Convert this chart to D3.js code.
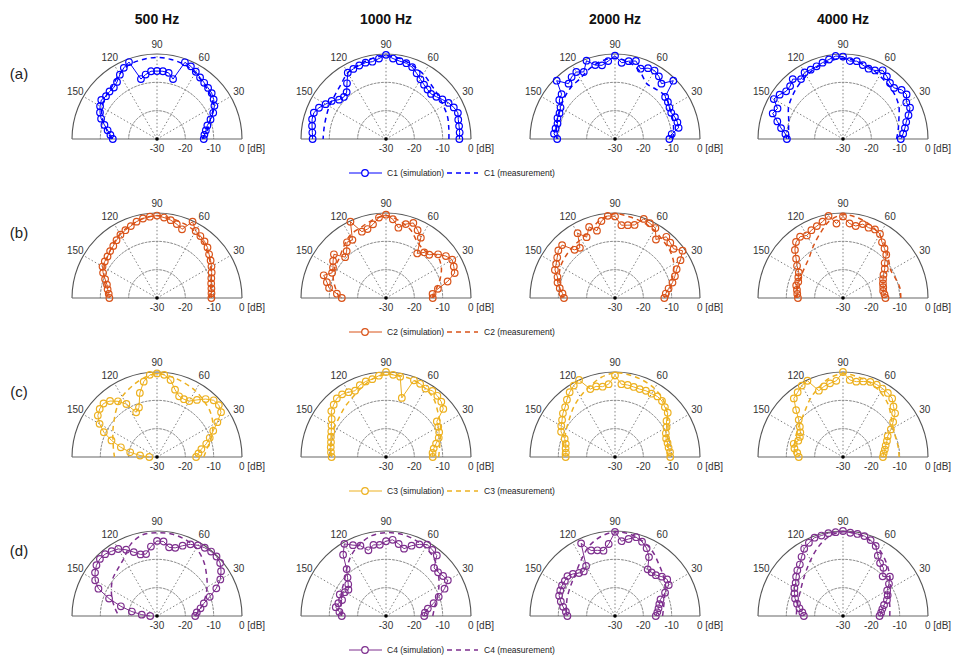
<!DOCTYPE html>
<html><head><meta charset="utf-8">
<script src="https://cdn.jsdelivr.net/npm/d3@7/dist/d3.min.js"></script>
<style>body{margin:0;background:#fff}</style>
</head><body><svg id="c" width="960" height="657"></svg>
<script>
// ---------- data ----------
const frequencies = ["500 Hz","1000 Hz","2000 Hz","4000 Hz"];
const rowLabels = ["(a)","(b)","(c)","(d)"];
const configs = ["C1","C2","C3","C4"];
const colors = ["#0000ff","#D95319","#EDB120","#7E2F8E"];
const angleTicks = [30,60,90,120,150];
const radialTicks = [-30,-20,-10,0];
const radialTickLabels = ["-30","-20","-10","0 [dB]"];
const simAngles = [0,5,10,15,20,25,30,35,40,45,50,55,60,65,70,75,80,85,90,95,100,105,110,115,120,125,130,135,140,145,150,155,160,165,170,175,180];
const measAngles = [0,10,20,30,40,50,60,70,80,90,100,110,120,130,140,150,160,170,180];

// C1
const simC1_500 = [-13.5,-13.2,-12.5,-11.6,-9.9,-8.1,-6.6,-5.6,-4.8,-4.5,-4.1,-3.5,-2.6,-1.7,-1.2,-8.1,-6.3,-6.0,-6.0,-6.0,-6.9,-8.1,-1.1,-2.3,-3.8,-5.4,-6.3,-6.3,-6.5,-6.0,-6.8,-7.8,-9.0,-10.8,-12.3,-13.5,-14.4];
const measC1_500 = [-14,-12,-10,-7,-5.5,-4.5,-3,-2,-1.5,-1.2,-1.5,-2,-3.5,-5.5,-6.5,-7.5,-9.5,-12,-14];
const simC1_1000 = [-4.1,-3.9,-3.8,-3.6,-3.0,-3.6,-4.5,-5.7,-6.8,-7.5,-7.2,-6.6,-5.7,-4.4,-3.0,-2.3,-2.1,-1.5,-0.3,-1.5,-2.3,-2.1,-2.4,-2.7,-3.0,-6.0,-8.4,-9.0,-8.4,-6.6,-5.4,-3.9,-2.9,-3.0,-3.5,-3.9,-4.1];
const measC1_1000 = [-7.8,-7.5,-6.9,-6.6,-6.0,-5.1,-3.6,-2.4,-1.2,-0.6,-1.2,-2.1,-3.0,-5.1,-6.3,-6.9,-7.5,-7.8,-7.8];
const simC1_2000 = [-10.8,-9.9,-7.2,-7.2,-7.5,-8.1,-7.8,-7.2,-6.9,-0.9,-4.5,-3.0,-2.1,-2.4,-3.6,-1.5,-2.1,-3.0,-0.6,-2.4,-3.6,-3.0,-0.6,-3.9,-2.7,-3.3,-4.5,-0.9,-5.4,-6.0,-7.8,-8.4,-8.4,-9.0,-8.7,-8.4,-9.6];
const measC1_2000 = [-9.6,-9.0,-8.4,-7.8,-6.6,-7.2,-7.5,-4.5,-2.4,-1.5,-2.1,-3.6,-5.4,-6.0,-6.9,-7.8,-8.4,-9.0,-9.6];
const simC1_4000 = [-9.6,-8.7,-7.8,-6.9,-5.4,-3.9,-4.2,-2.6,-3.0,-4.5,-4.2,-3.0,-2.0,-3.3,-3.6,-3.0,-2.1,-2.4,-0.9,-0.6,-1.5,-2.1,-2.7,-3.0,-2.9,-4.2,-2.4,-3.6,-3.8,-2.7,-1.8,-4.5,-3.6,-6.0,-7.8,-9.6,-10.2];
const measC1_4000 = [-11.1,-10.2,-9.0,-7.2,-6.0,-5.1,-4.2,-3.0,-2.1,-1.5,-2.1,-3.0,-4.2,-5.4,-6.6,-7.8,-9.6,-10.5,-10.8];
// C2
const simC2_500 = [-10.8,-10.7,-10.5,-10.2,-9.6,-8.7,-7.8,-6.9,-6.0,-4.8,-3.9,-3.3,-2.7,-0.3,-4.2,-3.0,-2.1,-1.5,-0.9,-1.2,-1.5,-2.1,-3.0,-3.6,-4.2,-5.1,-6.0,-6.6,-7.2,-7.5,-7.8,-9.0,-10.5,-11.7,-12.3,-12.9,-13.2];
const measC2_500 = [-11.4,-10.8,-9.6,-8.1,-6.3,-4.5,-3.0,-2.1,-1.5,-0.9,-1.5,-2.7,-3.9,-5.7,-7.2,-8.4,-10.2,-11.7,-12.6];
const simC2_1000 = [-13.5,-13.5,-11.4,-7.5,-4.2,-3.6,-3.0,-4.2,-6.0,-8.4,-9.0,-10.8,-5.4,-3.6,-1.8,-3.0,-4.8,-2.1,-0.6,-1.5,-3.6,-4.8,-5.1,-0.3,-6.3,-6.0,-8.4,-9.6,-6.0,-7.2,-8.4,-9.0,-6.6,-8.4,-9.6,-12.6,-14.4];
const measC2_1000 = [-13.5,-12.0,-9.6,-7.5,-6.6,-8.4,-7.5,-4.5,-2.4,-0.9,-2.1,-3.6,-4.5,-6.6,-8.4,-9.0,-10.2,-12.0,-13.5];
const simC2_2000 = [-12.6,-12.0,-10.8,-9.0,-7.5,-6.0,-3.3,-0.9,-3.0,-2.4,-1.8,-4.8,-1.5,-0.9,-0.3,-3.3,-3.9,-4.2,-1.2,-0.9,-2.4,-5.4,-3.3,-6.3,-3.6,-8.4,-7.8,-3.6,-3.9,-5.1,-6.0,-6.6,-8.4,-9.0,-10.2,-11.4,-12.0];
const measC2_2000 = [-11.4,-10.2,-8.4,-6.0,-4.5,-3.6,-2.4,-1.5,-0.9,-0.3,-1.8,-4.5,-6.0,-6.6,-7.2,-7.8,-9.0,-10.2,-11.4];
const simC2_4000 = [-15.0,-15.3,-15.6,-15.3,-15.0,-14.4,-13.5,-12.0,-10.8,-8.4,-7.2,-6.0,-3.9,-3.3,-3.6,-3.0,-4.2,-3.6,-1.2,-3.6,-0.6,-2.1,-3.0,-3.6,-4.5,-3.6,-4.2,-6.0,-8.4,-10.2,-12.0,-12.6,-13.2,-12.9,-13.5,-13.8,-14.1];
const measC2_4000 = [-9.6,-9.6,-10.2,-10.5,-9.0,-6.6,-4.2,-2.4,-1.2,-0.6,-2.4,-6.0,-9.0,-11.4,-12.6,-13.2,-13.5,-13.5,-13.5];
// C3
const simC3_500 = [-16.2,-15.3,-14.1,-12.0,-10.2,-8.1,-5.4,-2.4,-1.5,-1.7,-3.3,-5.4,-7.2,-7.5,-7.2,-5.4,-2.4,-0.9,-0.5,-0.9,-3.0,-6.6,-11.4,-12.6,-8.4,-6.0,-4.2,-3.3,-3.6,-4.5,-6.6,-9.3,-12.9,-16.8,-20.4,-24.0,-27.3];
const measC3_500 = [-13.5,-12.0,-9.6,-7.2,-5.4,-4.2,-3.0,-2.1,-1.2,-0.6,-1.8,-3.6,-5.4,-7.8,-10.2,-12.0,-13.5,-14.4,-15.0];
const simC3_1000 = [-13.5,-13.5,-12.9,-11.7,-10.2,-9.3,-8.7,-8.1,-3.6,-2.4,-1.8,-1.5,-2.1,-1.5,-1.2,-8.4,-1.2,-0.9,0,-1.2,-2.1,-2.4,-3.0,-4.2,-3.6,-3.0,-3.0,-3.9,-4.8,-6.6,-7.8,-8.7,-9.3,-9.9,-10.2,-10.5,-10.8];
const measC3_1000 = [-11.4,-10.8,-9.6,-7.8,-6.0,-3.6,-2.1,-1.2,-0.9,-0.9,-2.1,-4.2,-6.0,-7.2,-8.4,-9.0,-9.6,-10.2,-10.5];
const simC3_2000 = [-10.5,-10.5,-10.8,-10.8,-10.8,-10.2,-9.0,-7.8,-5.7,-5.1,-4.2,-3.9,-4.2,-4.2,-4.5,-4.4,-4.2,-4.2,-1.2,-4.2,-4.8,-4.2,-4.5,0,-0.9,-2.1,-3.6,-5.1,-6.0,-7.2,-8.1,-9.0,-11.1,-12.0,-12.3,-12.6,-12.6];
const measC3_2000 = [-11.4,-11.1,-10.2,-8.4,-6.0,-3.6,-2.1,-1.2,-0.6,-0.3,-1.5,-3.6,-5.4,-7.2,-9.0,-10.2,-11.1,-11.4,-11.4];
const simC3_4000 = [-15.9,-15.6,-15.0,-14.4,-13.5,-12.6,-10.5,-8.4,-6.0,-4.8,-3.0,-2.4,-2.1,-1.8,-1.8,-2.4,-3.0,-2.7,0,-3.0,-3.6,-4.2,-5.1,-0.3,-0.9,-2.1,-3.0,-6.6,-9.6,-11.4,-12.6,-13.2,-13.2,-12.0,-12.6,-13.8,-14.4];
const measC3_4000 = [-10.2,-10.2,-10.2,-9.6,-7.8,-5.4,-3.6,-2.1,-1.2,-0.6,-1.8,-4.2,-6.6,-9.0,-10.5,-11.4,-12.0,-12.6,-12.6];
// C4
const simC4_500 = [-16.5,-15.9,-14.4,-12.9,-10.2,-6.9,-4.2,-2.4,-0.9,-0.3,-0.3,-0.6,-1.2,-2.1,-3.6,-5.1,-5.4,-3.6,-3.5,-5.4,-7.8,-7.5,-6.0,-4.2,-2.7,-2.1,-1.5,-1.5,-2.1,-3.3,-4.8,-7.2,-12.0,-16.8,-21.0,-24.6,-27.6];
const measC4_500 = [-16.5,-14.4,-12.0,-9.6,-7.2,-4.5,-2.4,-1.2,-0.6,-0.6,-0.9,-3.0,-6.6,-8.4,-9.6,-11.4,-13.2,-15.0,-16.5];
const simC4_1000 = [-16.5,-16.2,-15.0,-12.6,-10.2,-7.2,-4.8,-5.4,-6.0,-6.0,-2.1,-1.5,-0.9,-2.1,-3.6,-5.4,-4.2,-3.0,-3.6,-4.8,-4.5,-6.0,-3.6,-2.4,-0.6,-3.6,-8.4,-10.8,-12.6,-13.8,-13.2,-12.0,-13.5,-12.6,-12.0,-13.5,-14.4];
const measC4_1000 = [-13.5,-12.6,-10.8,-8.4,-6.0,-3.6,-2.1,-1.2,-0.6,-0.6,-1.2,-3.0,-5.4,-8.4,-10.8,-12.0,-13.2,-13.8,-14.4];
const simC4_2000 = [-15.6,-15.0,-14.4,-13.8,-12.9,-10.5,-8.1,-7.5,-8.4,-9.6,-9.9,-9.9,-6.0,-3.6,-2.1,-1.2,-2.4,-3.5,-0.3,-4.5,-6.6,-6.0,-5.4,-1.7,-9.6,-10.8,-10.2,-9.0,-8.1,-8.4,-8.4,-8.7,-9.0,-10.2,-11.4,-12.6,-13.2];
const measC4_2000 = [-13.2,-12.6,-11.4,-9.6,-7.8,-6.0,-3.6,-1.8,-0.6,-0.3,-1.5,-3.6,-6.6,-9.0,-10.5,-11.4,-12.0,-12.6,-12.9];
const simC4_4000 = [-17.1,-16.5,-15.9,-15.0,-13.5,-12.6,-12.0,-10.2,-8.4,-10.2,-7.8,-7.2,-5.4,-2.7,-1.5,-0.8,-0.6,-0.5,0,-0.3,-0.3,-0.6,-0.6,-1.5,-2.6,-4.5,-6.3,-7.2,-8.4,-9.6,-10.2,-11.1,-12.0,-13.2,-14.4,-15.6,-16.2];
const measC4_4000 = [-13.5,-13.2,-12.6,-10.8,-8.4,-6.0,-3.6,-1.8,-0.6,-0.3,-1.5,-4.2,-7.2,-9.6,-11.4,-12.6,-13.2,-13.5,-13.5];

const simTable = [
  [simC1_500, simC1_1000, simC1_2000, simC1_4000],
  [simC2_500, simC2_1000, simC2_2000, simC2_4000],
  [simC3_500, simC3_1000, simC3_2000, simC3_4000],
  [simC4_500, simC4_1000, simC4_2000, simC4_4000]
];
const measTable = [
  [measC1_500, measC1_1000, measC1_2000, measC1_4000],
  [measC2_500, measC2_1000, measC2_2000, measC2_4000],
  [measC3_500, measC3_1000, measC3_2000, measC3_4000],
  [measC4_500, measC4_1000, measC4_2000, measC4_4000]
];

// ---------- layout ----------
const FONT = "'Liberation Sans', Arial, Helvetica, sans-serif";
const colX = [157, 386, 615, 843];
const rowY = [139, 298, 457, 616];
const R = 85;
const svg = d3.select("#c");

const rScale = d3.scaleLinear().domain([-30, 0]).range([0, R]).clamp(true);
const aScale = d3.scaleLinear().domain([0, 180]).range([Math.PI/2, -Math.PI/2]);
const px = (deg, r) => r * Math.sin(aScale(deg));
const py = (deg, r) => -r * Math.cos(aScale(deg));

svg.selectAll("text.title").data(frequencies).join("text")
  .attr("class","title")
  .attr("x", (d,i) => colX[i]).attr("y", 24)
  .attr("text-anchor","middle")
  .style("font-family", FONT).style("font-weight","bold").style("font-size","14px")
  .attr("fill","#111").text(d => d);

svg.selectAll("text.rowlab").data(rowLabels).join("text")
  .attr("class","rowlab")
  .attr("x", 19).attr("y", (d,i) => rowY[i] - 60)
  .attr("text-anchor","middle")
  .style("font-family", FONT).style("font-size","15px")
  .attr("fill","#222").text(d => d);

const arcGen = d3.arc().startAngle(-Math.PI/2).endAngle(Math.PI/2);

configs.forEach((cfg, ri) => {
  frequencies.forEach((fr, ci) => {
    const g = svg.append("g").attr("transform", `translate(${colX[ci]},${rowY[ri]})`);
    radialTicks.slice(1, -1).forEach(t => {
      const rr = rScale(t);
      g.append("path").attr("d", arcGen({innerRadius: rr, outerRadius: rr}))
        .attr("fill","none").attr("stroke","#808080").attr("stroke-width",1)
        .attr("stroke-dasharray","1.5,2.2");
    });
    angleTicks.forEach(a => {
      g.append("line").attr("x1",0).attr("y1",0)
        .attr("x2", px(a, R)).attr("y2", py(a, R))
        .attr("stroke","#808080").attr("stroke-width",1).attr("stroke-dasharray","1.5,2.2");
    });
    g.append("path").attr("d", arcGen({innerRadius: R, outerRadius: R}))
      .attr("fill","none").attr("stroke","#555").attr("stroke-width",1.1);
    g.append("line").attr("x1",-R).attr("x2",R).attr("y1",0).attr("y2",0)
      .attr("stroke","#666").attr("stroke-width",1.2);
    angleTicks.forEach(a => {
      g.append("text").attr("x", px(a, R*1.11)).attr("y", py(a, R*1.11))
        .attr("text-anchor","middle").attr("dominant-baseline","central")
        .style("font-family", FONT).style("font-size","10px").attr("fill","#333").text(a);
    });
    radialTicks.forEach((t, k) => {
      const tx = g.append("text").attr("x", rScale(t)).attr("y", 13)
        .style("font-family", FONT).style("font-size","10px").attr("fill","#333");
      if (k === radialTicks.length - 1) {
        tx.attr("x", rScale(t) - 3).attr("text-anchor","start").text(radialTickLabels[k]);
      } else {
        tx.attr("text-anchor","middle").text(radialTickLabels[k]);
      }
    });
    const meas = measAngles.map((a, k) => [a, measTable[ri][ci][k]]);
    const measLine = d3.lineRadial().angle(d => aScale(d[0])).radius(d => rScale(d[1]))
      .curve(d3.curveCatmullRom.alpha(0.5));
    g.append("path").datum(meas).attr("d", measLine)
      .attr("fill","none").attr("stroke", colors[ri]).attr("stroke-width",1.5)
      .attr("stroke-dasharray","5,4");
    const sim = simAngles.map((a, k) => [a, simTable[ri][ci][k]]);
    const simLine = d3.lineRadial().angle(d => aScale(d[0])).radius(d => rScale(d[1]));
    g.append("path").datum(sim).attr("d", simLine)
      .attr("fill","none").attr("stroke", colors[ri]).attr("stroke-width",1);
    g.selectAll("circle.m").data(sim).join("circle").attr("class","m")
      .attr("cx", d => px(d[0], rScale(d[1]))).attr("cy", d => py(d[0], rScale(d[1])))
      .attr("r", 3.3).attr("fill","none").attr("stroke", colors[ri]).attr("stroke-width",1.2);
    g.append("circle").attr("r",1.8).attr("fill","#000");
  });

  const ly = rowY[ri] + 34;
  const lg = svg.append("g").attr("transform", `translate(0,${ly})`);
  lg.append("line").attr("x1",349).attr("x2",382).attr("y1",0).attr("y2",0)
    .attr("stroke", colors[ri]).attr("stroke-width",1);
  lg.append("circle").attr("cx",365).attr("cy",0).attr("r",3.3)
    .attr("fill","#fff").attr("stroke", colors[ri]).attr("stroke-width",1.2);
  lg.append("text").attr("x",387).attr("y",0).attr("dominant-baseline","central")
    .style("font-family", FONT).style("font-size","8.5px").attr("fill","#222")
    .text(cfg + " (simulation)");
  lg.append("line").attr("x1",447).attr("x2",478).attr("y1",0).attr("y2",0)
    .attr("stroke", colors[ri]).attr("stroke-width",1.5).attr("stroke-dasharray","5,4");
  lg.append("text").attr("x",484).attr("y",0).attr("dominant-baseline","central")
    .style("font-family", FONT).style("font-size","8.5px").attr("fill","#222")
    .text(cfg + " (measurement)");
});
</script></body></html>
